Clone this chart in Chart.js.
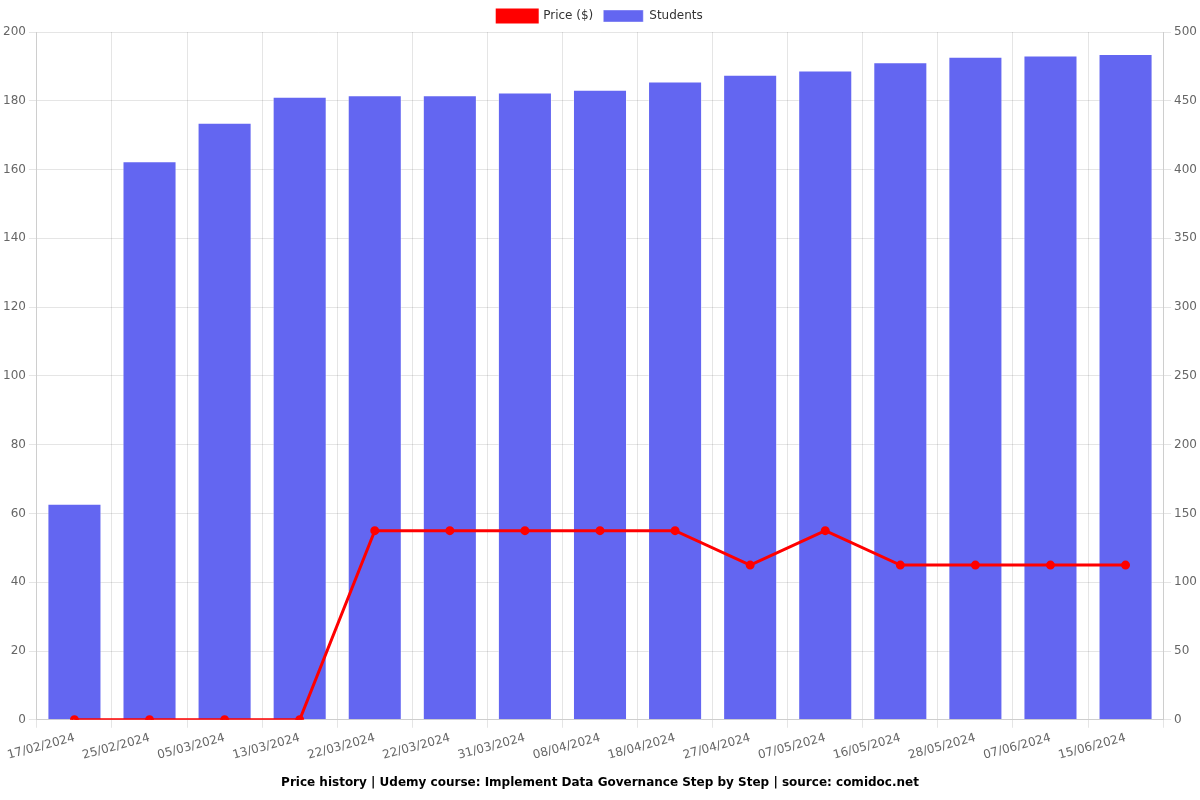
<!DOCTYPE html>
<html lang="en">
<head>
  <meta charset="UTF-8" />
  <title>Price history</title>
  <script src="https://cdn.jsdelivr.net/npm/chart.js"></script>
  <style>
    html, body { margin: 0; padding: 0; background: #fff; }
    #wrap { width: 1200px; height: 800px; }
  </style>
</head>
<body>
  <div id="wrap"><canvas id="chart"></canvas></div>
  <script>
    const labels = ["17/02/2024", "25/02/2024", "05/03/2024", "13/03/2024", "22/03/2024", "22/03/2024", "31/03/2024", "08/04/2024", "18/04/2024", "27/04/2024", "07/05/2024", "16/05/2024", "28/05/2024", "07/06/2024", "15/06/2024"];
    const price = [0, 0, 0, 0, 54.99, 54.99, 54.99, 54.99, 54.99, 44.99, 54.99, 44.99, 44.99, 44.99, 44.99];
    const students = [157, 406, 434, 453, 454, 454, 456, 458, 464, 469, 472, 478, 482, 483, 484];

    Chart.defaults.font.family = "'DejaVu Sans', sans-serif";
    Chart.defaults.color = "#666";

    new Chart(document.getElementById("chart"), {
      type: "bar",
      data: {
        labels: labels,
        datasets: [
          {
            type: "line", label: "Price ($)", data: price, yAxisID: "y",
            borderColor: "#ff0000", backgroundColor: "#ff0000",
            borderWidth: 3, pointRadius: 3, tension: 0, order: 0
          },
          {
            type: "bar", label: "Students", data: students, yAxisID: "y1",
            backgroundColor: "#6366f1", borderColor: "rgba(255,255,255,0.4)", borderWidth: 1, order: 1
          }
        ]
      },
      options: {
        responsive: true,
        maintainAspectRatio: false,
        animation: false,
        plugins: {
          legend: { position: "top", labels: { boxWidth: 40, boxHeight: 12, color: "#333", font: { size: 12 } } },
          title: {
            display: true, position: "bottom",
            text: "Price history | Udemy course: Implement Data Governance Step by Step | source: comidoc.net",
            color: "#000", font: { size: 12, weight: "bold" }
          }
        },
        scales: {
          x: { ticks: { maxRotation: 15, minRotation: 15, font: { size: 12 } } },
          y: { position: "left", min: 0, max: 200, ticks: { stepSize: 20, font: { size: 12 } } },
          y1: { position: "right", min: 0, max: 500, ticks: { stepSize: 50, font: { size: 12 } }, grid: { drawOnChartArea: false } }
        }
      }
    });
  </script>
</body>
</html>
